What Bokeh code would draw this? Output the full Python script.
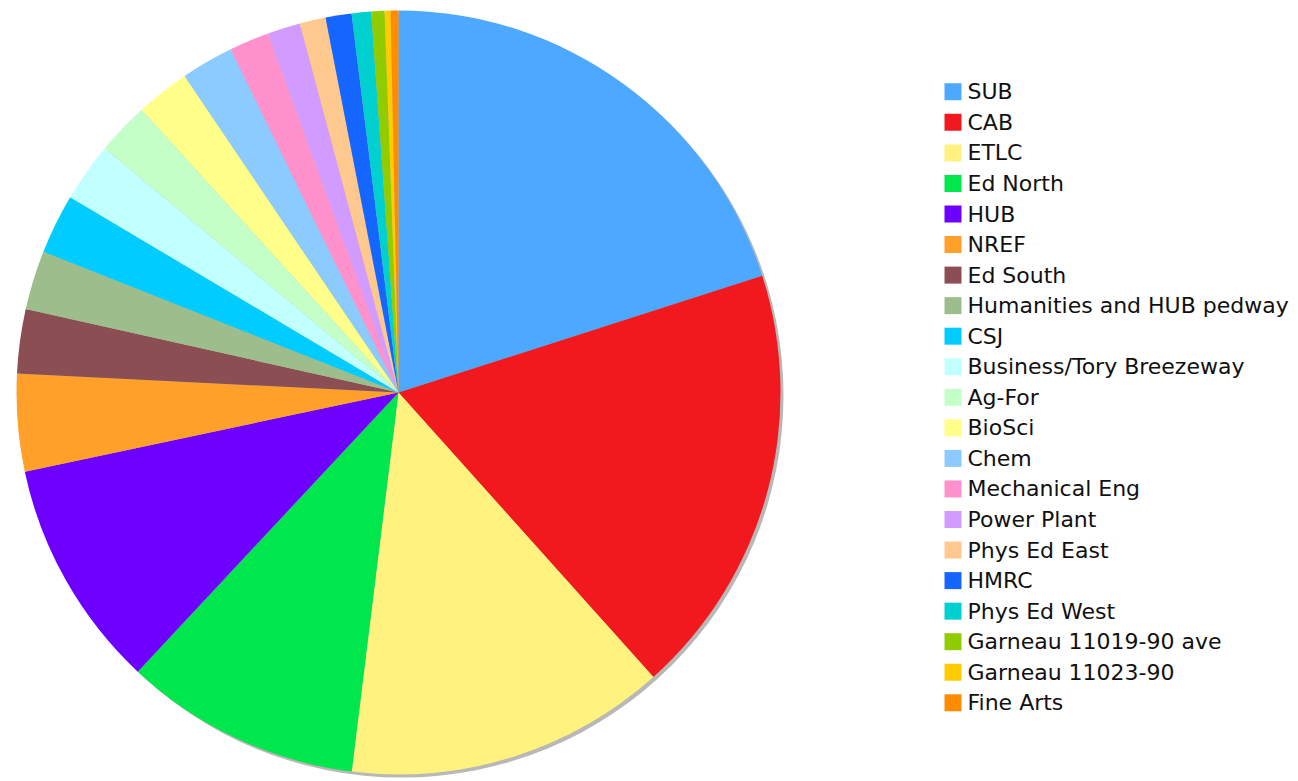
import numpy as np
from bokeh.plotting import figure
from bokeh.models import Range1d, ColumnDataSource
from bokeh.core.properties import value
from bokeh.embed import file_html
from bokeh.resources import INLINE

categories = ["SUB", "CAB", "ETLC", "Ed North", "HUB", "NREF", "Ed South",
              "Humanities and HUB pedway", "CSJ", "Business/Tory Breezeway",
              "Ag-For", "BioSci", "Chem", "Mechanical Eng", "Power Plant",
              "Phys Ed East", "HMRC", "Phys Ed West", "Garneau 11019-90 ave",
              "Garneau 11023-90", "Fine Arts"]
values = [20.06, 18.31, 13.58, 10.0, 9.72, 4.11, 2.72,
          2.5, 2.53, 2.5,
          2.22, 2.28, 2.22, 1.69, 1.39,
          1.1, 1.1, 0.82, 0.56,
          0.25, 0.33]
colors = ["#4DA9FF", "#F2191E", "#FFF27F", "#00E64D", "#6E00FF", "#FFA02B", "#8B4E52",
          "#9DBE8C", "#00CCFF", "#C2FFFF", "#C4FFC8", "#FFFF8A", "#8CCBFF", "#FF91CC",
          "#D29BFF", "#FFC88E", "#1466FF", "#00D0D0", "#91CC00", "#FFCC00", "#FF8C00"]

W, H = 1298, 781
CX, CY, R = 398, H - 392, 382

vals = np.array(values, dtype=float)
frac = vals / vals.sum()
cum = np.concatenate([[0], np.cumsum(frac)])
start = np.pi / 2 - cum[:-1] * 2 * np.pi
end = np.pi / 2 - cum[1:] * 2 * np.pi

p = figure(width=W, height=H, x_range=Range1d(0, W), y_range=Range1d(0, H),
           output_backend="svg", toolbar_location=None, min_border=0)
p.axis.visible = False
p.grid.visible = False
p.outline_line_color = None
p.background_fill_color = "white"

# shadow
p.circle(x=[CX + 3], y=[CY - 3], radius=R, fill_color="#b8b8b8", line_color=None)

src = ColumnDataSource(dict(start=start, end=end, color=colors, cat=categories))
p.wedge(x=CX, y=CY, radius=R, start_angle="start", end_angle="end",
        direction="clock", fill_color="color", line_color=None, source=src)

n = len(categories)
row_y = [H - (91.3 + 30.55 * i) for i in range(n)]
p.rect(x=[952.5] * n, y=row_y, width=17, height=17, fill_color=colors, line_color=None)
p.text(x=[967] * n, y=row_y, text=categories, text_font=value("DejaVu Sans"),
       text_font_size="22px", text_baseline="middle", text_align="left",
       text_color="#111111")

open("out.html", "w").write(file_html(p, INLINE))
